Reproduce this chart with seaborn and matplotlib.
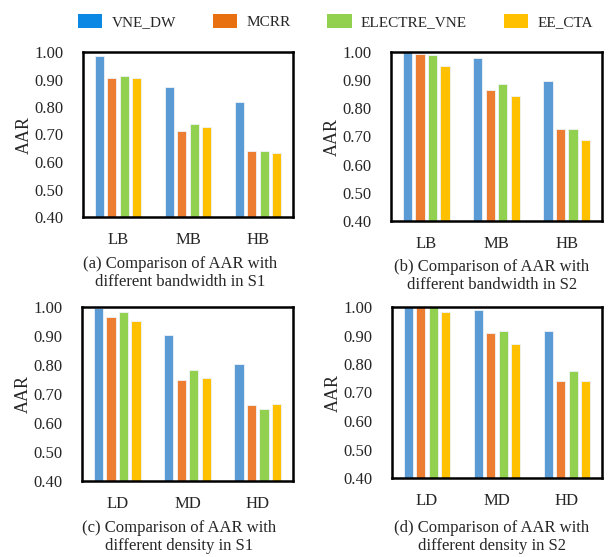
import numpy as np
import pandas as pd
import seaborn as sns
import matplotlib.pyplot as plt
from matplotlib.patches import Patch

sns.set_style("white")
plt.rcParams["font.family"] = ["Liberation Serif", "DejaVu Serif"]

algorithms = ["VNE_DW", "MCRR", "ELECTRE_VNE", "EE_CTA"]
bar_colors = ["#5B9BD5", "#ED7D31", "#92D050", "#FFC000"]
legend_colors = ["#0A88E3", "#E8700F", "#92D050", "#FFC000"]

bw_levels = ["LB", "MB", "HB"]
den_levels = ["LD", "MD", "HD"]

# AAR values, one list per algorithm, ordered like the levels
bw_s1 = {
    "VNE_DW": [0.984, 0.872, 0.817],
    "MCRR": [0.907, 0.712, 0.641],
    "ELECTRE_VNE": [0.914, 0.739, 0.641],
    "EE_CTA": [0.907, 0.726, 0.634],
}
bw_s2 = {
    "VNE_DW": [1.000, 0.980, 0.898],
    "MCRR": [0.994, 0.864, 0.726],
    "ELECTRE_VNE": [0.988, 0.885, 0.726],
    "EE_CTA": [0.952, 0.844, 0.686],
}
den_s1 = {
    "VNE_DW": [0.998, 0.903, 0.802],
    "MCRR": [0.964, 0.748, 0.662],
    "ELECTRE_VNE": [0.984, 0.783, 0.648],
    "EE_CTA": [0.951, 0.755, 0.667],
}
den_s2 = {
    "VNE_DW": [1.000, 0.991, 0.917],
    "MCRR": [1.000, 0.909, 0.742],
    "ELECTRE_VNE": [1.000, 0.917, 0.774],
    "EE_CTA": [0.984, 0.870, 0.742],
}

captions = [
    "(a) Comparison of AAR with\ndifferent bandwidth in S1",
    "(b) Comparison of AAR with\ndifferent bandwidth in S2",
    "(c) Comparison of AAR with\ndifferent density in S1",
    "(d) Comparison of AAR with\ndifferent density in S2",
]

W, H = 608, 557
fig = plt.figure(figsize=(W / 100, H / 100), dpi=100)


def px_axes(left, top, right, bottom):
    return fig.add_axes([left / W, 1 - bottom / H, (right - left) / W, (bottom - top) / H])


panels = [
    (bw_s1, bw_levels, (83, 52, 293, 217), (180, 273)),
    (bw_s2, bw_levels, (391, 52, 602, 221), (492, 276)),
    (den_s1, den_levels, (82, 307, 293, 481), (179, 537)),
    (den_s2, den_levels, (392, 307, 602, 478), (492, 537)),
]

for (vals, levels, box, cap_xy), cap in zip(panels, captions):
    ax = px_axes(*box)
    df = pd.DataFrame(vals, index=levels).reset_index().melt(
        id_vars="index", var_name="alg", value_name="AAR")
    df = df.rename(columns={"index": "level"})
    sns.barplot(data=df, x="level", y="AAR", hue="alg", hue_order=algorithms,
                order=levels, palette=bar_colors, saturation=1, width=0.71, gap=0.25,
                edgecolor="#EEF3F8", linewidth=0.6, legend=False, ax=ax)
    ax.set_ylim(0.40, 1.00)
    ax.set_yticks(np.arange(0.40, 1.001, 0.10))
    ax.set_yticklabels([f"{t:.2f}" for t in np.arange(0.40, 1.001, 0.10)])
    ax.set_xlabel("")
    ax.set_ylabel("AAR", fontsize=13)
    ax.yaxis.set_label_coords(-0.24, 0.5)
    ax.tick_params(axis="y", length=0, pad=14, labelsize=12)
    ax.tick_params(axis="x", length=0, pad=11, labelsize=12)
    for s in ax.spines.values():
        s.set_visible(True)
        s.set_color("black")
        s.set_linewidth(1.8)
    fig.text(cap_xy[0] / W, 1 - cap_xy[1] / H, cap, ha="center", va="center",
             fontsize=12, linespacing=1.1)

handles = [Patch(facecolor=c, edgecolor="none") for c in legend_colors]
fig.legend(handles, algorithms, loc="center left", bbox_to_anchor=(78 / W, 1 - 21.5 / H),
           ncol=4, frameon=False, fontsize=11, handlelength=1.6, handleheight=1.05,
           handletextpad=0.6, columnspacing=2.4, borderpad=0, borderaxespad=0)

fig.savefig("out.png", dpi=100)
